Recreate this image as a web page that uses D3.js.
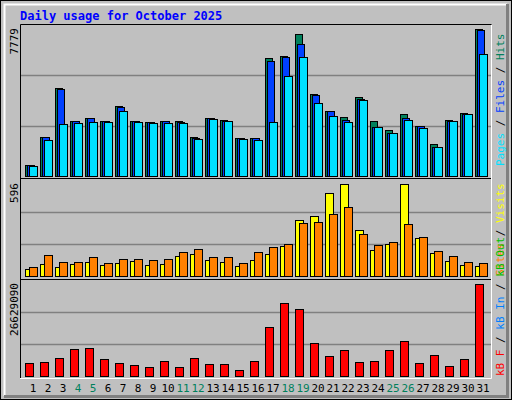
<!DOCTYPE html>
<html><head><meta charset="utf-8">
<script src="https://cdn.jsdelivr.net/npm/d3@7"></script>
<style>body{margin:0;background:#fff}svg text{font-family:"DejaVu Sans Mono",monospace}</style>
</head><body><svg id="c" width="512" height="400"></svg>
<script>
// daily values
var days = d3.range(1, 32);
var weekend = [4, 5, 11, 12, 18, 19, 25, 26];
var hits = [578,2050,4678,2891,3048,2891,3679,2891,2838,2891,2891,2050,3048,2943,1997,1997,6254,6360,7516,4362,3416,3101,4205,2891,2418,3259,2628,1682,2943,3311,7779];
var files = [578,2050,4625,2891,3048,2891,3627,2891,2838,2891,2838,1997,3048,2891,1997,1997,6097,6307,6990,4310,3416,2943,4100,2575,2260,3048,2628,1524,2891,3259,7720];
var pages = [526,1892,2733,2786,2838,2838,3416,2838,2786,2786,2786,1945,2996,2891,1945,1892,2838,5309,6307,3889,3154,2838,4047,2575,2260,2943,2523,1524,2891,3259,6465];
var visits = [45,78,58,78,91,71,84,97,71,78,130,143,104,91,65,104,143,194,363,389,538,596,298,168,207,596,246,149,97,71,65];
var sites = [58,136,91,91,123,84,110,110,104,110,155,175,123,123,84,155,188,207,343,350,402,447,272,201,220,337,253,162,130,91,84];
var kbytes = [3720000,4010000,5150000,7730000,8020000,4870000,3720000,3150000,2580000,4300000,2580000,5150000,3440000,3440000,1720000,4300000,14320000,21190000,19470000,9450000,5730000,7440000,4010000,4300000,7440000,10020000,3720000,6010000,2860000,4870000,26629090];

var svg = d3.select("#c");
var bg = "#c0c0c0";

// frame
svg.append("rect").attr("x", 0.5).attr("y", 0.5).attr("width", 511).attr("height", 399).attr("fill", bg).attr("stroke", "#000");
svg.append("path").attr("d", "M4.5,396V4.5H507").attr("fill", "none").attr("stroke", "#fff").attr("stroke-width", 2);
svg.append("path").attr("d", "M4,396.5H507.5V4").attr("fill", "none").attr("stroke", "#808080").attr("stroke-width", 3);

svg.append("text").attr("x", 20).attr("y", 20).attr("fill", "#0000ff").attr("font-weight", "bold")
    .attr("font-size", 12).text("Daily usage for October 2025");

var x = d3.scaleLinear().domain([1, 31]).range([25, 475]);

// plot area outlines
svg.append("path").attr("d", "M20.5,378V24.5H491.5").attr("fill", "none").attr("stroke", "#000");
svg.append("path").attr("d", "M20,378.5H491.5V25").attr("fill", "none").attr("stroke", "#fff");
svg.append("line").attr("x1", 21).attr("x2", 491).attr("y1", 178.5).attr("y2", 178.5).attr("stroke", "#000");
svg.append("line").attr("x1", 21).attr("x2", 491).attr("y1", 279.5).attr("y2", 279.5).attr("stroke", "#000");

function panel(top, bottom, maxLabel, series) {
    var y = d3.scaleLinear().domain([0, maxLabel]).range([bottom, top]);
    [1, 2].forEach(function(k) {
        var gy = Math.round(bottom - (bottom - (top - 4)) * k / 3) + 0.5;
        svg.append("line").attr("x1", 21).attr("x2", 491).attr("y1", gy).attr("y2", gy).attr("stroke", "#808080").attr("stroke-width", 1.5);
    });
    series.forEach(function(s) {
        svg.append("g").selectAll("rect").data(s.data).enter().append("rect")
            .attr("x", function(d, i) { return x(days[i]) + s.dx + 0.5; })
            .attr("y", function(d) { return Math.round(y(d)) + 0.5; })
            .attr("width", s.w)
            .attr("height", function(d) { return Math.max(0, bottom - Math.round(y(d))); })
            .attr("fill", s.color).attr("stroke", "#000");
    });
    svg.append("text").attr("transform", "translate(18," + (top - 1) + ") rotate(-90)")
        .attr("text-anchor", "end").attr("font-size", 11).text(maxLabel);
}

panel(29, 176, 7779, [
    {data: hits, color: "#00805c", dx: 0, w: 7},
    {data: files, color: "#0040ff", dx: 2, w: 7},
    {data: pages, color: "#00e0ff", dx: 4, w: 8}
]);
panel(184, 276, 596, [
    {data: visits, color: "#ffff00", dx: 0, w: 8},
    {data: sites, color: "#ff8000", dx: 4, w: 8}
]);
panel(284, 376, 26629090, [
    {data: kbytes, color: "#ff0000", dx: 0, w: 8}
]);

// right legends
function legend(yb, parts) {
    var t = svg.append("text").attr("transform", "translate(504," + yb + ") rotate(-90)").attr("font-size", 11);
    parts.forEach(function(p) { t.append("tspan").attr("fill", p[1]).text(p[0]); });
}
legend(166, [["Pages", "#00e0ff"], [" / ", "#000"], ["Files", "#0040ff"], [" / ", "#000"], ["Hits", "#00805c"]]);
legend(276, [["Sites", "#ff8000"], [" / ", "#000"], ["Visits", "#ffff00"]]);
legend(376, [["kB F", "#ff0000"], [" / ", "#000"], ["kB In", "#0080ff"], [" / ", "#000"], ["kB Out", "#00c000"]]);

// day labels
svg.append("g").selectAll("text").data(days).enter().append("text")
    .attr("x", function(d) { return x(d) + 8; }).attr("y", 392)
    .attr("text-anchor", "middle").attr("font-size", 11)
    .attr("fill", function(d) { return weekend.indexOf(d) >= 0 ? "#00805c" : "#000"; })
    .text(function(d) { return d; });
</script></body></html>
